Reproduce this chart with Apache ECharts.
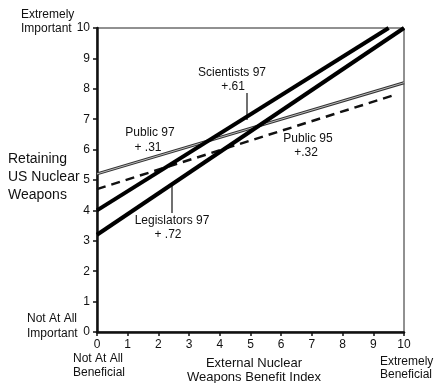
<!DOCTYPE html>
<html>
<head>
<meta charset="utf-8">
<script src="https://cdn.jsdelivr.net/npm/echarts@6/dist/echarts.min.js"></script>
<style>
  html, body { margin: 0; padding: 0; background: #fff; }
  #chart { width: 434px; height: 383px; }
</style>
</head>
<body>
<div id="chart"></div>
<script>
// Regression lines: [benefit index, importance] endpoints
const public97 = [[0, 5.2], [10, 8.2]];
const public95 = [[0, 4.7], [9.7, 7.8]];
const scientists97 = [[0, 4.0], [9.5, 10]];
const legislators97 = [[0, 3.2], [10, 10]];

const xTicks = [0, 1, 2, 3, 4, 5, 6, 7, 8, 9, 10];
const yTicks = [0, 1, 2, 3, 4, 5, 6, 7, 8, 9, 10];

const FONT = 'Liberation Sans, Arial, sans-serif';
const chart = echarts.init(document.getElementById('chart'));

const txt = (x, y, text, size, align, weight) => ({
  type: 'text', x: x, y: y,
  style: { text: text, font: (weight || 'normal') + ' ' + size + 'px ' + FONT, fill: '#111',
           align: align || 'left', verticalAlign: 'middle' }
});

chart.setOption({
  animation: false,
  grid: { left: 97, right: 30, top: 28, bottom: 51, show: true, borderColor: '#222', borderWidth: 1 },
  xAxis: {
    type: 'value', min: xTicks[0], max: xTicks[xTicks.length - 1], interval: 1,
    axisLine: { lineStyle: { color: '#111', width: 2.5 } },
    axisTick: { length: 4, lineStyle: { color: '#111', width: 1.5 } },
    axisLabel: { color: '#111', fontSize: 12, fontFamily: FONT, margin: 7 },
    splitLine: { show: false }
  },
  yAxis: {
    type: 'value', min: yTicks[0], max: yTicks[yTicks.length - 1], interval: 1,
    axisLine: { lineStyle: { color: '#111', width: 2.5 } },
    axisTick: { length: 4, lineStyle: { color: '#111', width: 1.5 } },
    axisLabel: { color: '#111', fontSize: 12, fontFamily: FONT, margin: 7 },
    splitLine: { show: false }
  },
  series: [
    { type: 'line', data: public95, symbol: 'none',
      lineStyle: { color: '#111', width: 2.5, type: [9, 6] } },
    { type: 'line', data: public97, symbol: 'none',
      lineStyle: { color: '#333', width: 3 } },
    { type: 'line', data: public97, symbol: 'none',
      lineStyle: { color: '#bbb', width: 1 } },
    { type: 'line', data: scientists97, symbol: 'none',
      lineStyle: { color: '#000', width: 4 } },
    { type: 'line', data: legislators97, symbol: 'none',
      lineStyle: { color: '#000', width: 4 } }
  ],
  graphic: [
    txt(21, 15, 'Extremely', 12),
    txt(21, 29, 'Important', 12),
    txt(8, 159, 'Retaining', 14),
    txt(8, 177, 'US Nuclear', 14),
    txt(8, 195, 'Weapons', 14),
    txt(27, 319, 'Not At All', 12),
    txt(27, 334, 'Important', 12),
    txt(73, 359, 'Not At All', 12),
    txt(73, 373, 'Beneficial', 12),
    txt(254, 363, 'External Nuclear', 13, 'center'),
    txt(254, 377, 'Weapons Benefit Index', 13, 'center'),
    txt(380, 362, 'Extremely', 12),
    txt(380, 375, 'Beneficial', 12),
    txt(150, 133, 'Public 97', 12, 'center'),
    txt(148, 148, '+ .31', 12, 'center'),
    txt(232, 73, 'Scientists 97', 12, 'center'),
    txt(233, 87, '+.61', 12, 'center'),
    txt(308, 139, 'Public 95', 12, 'center'),
    txt(306, 153, '+.32', 12, 'center'),
    txt(172, 221, 'Legislators 97', 12, 'center'),
    txt(168, 235, '+ .72', 12, 'center'),
    { type: 'line', shape: { x1: 247, y1: 93, x2: 247, y2: 120 }, style: { stroke: '#111', lineWidth: 1.2 } },
    { type: 'line', shape: { x1: 172, y1: 185, x2: 172, y2: 213 }, style: { stroke: '#111', lineWidth: 1.2 } }
  ]
});
</script>
</body>
</html>
